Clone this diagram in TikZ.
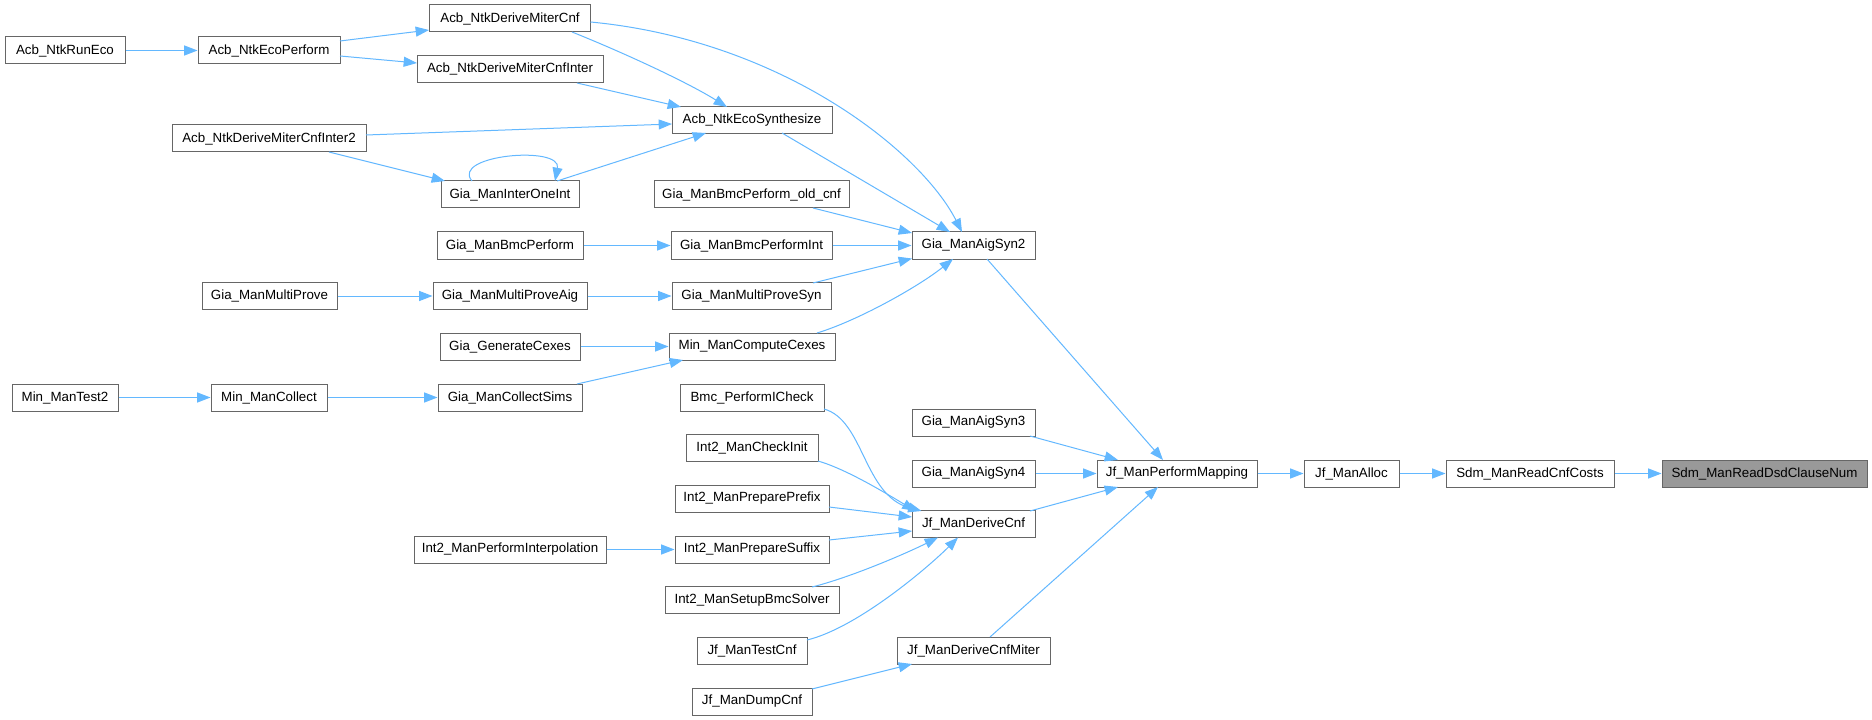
\documentclass[tikz,border=0pt]{standalone}
\usepackage{fontspec}
\setmainfont{Liberation Sans}
\usetikzlibrary{arrows.meta,calc}
\definecolor{edgeblue}{HTML}{63B8FF}
\definecolor{boxgray}{HTML}{666666}
\definecolor{focusgray}{HTML}{999999}
\begin{document}
\begin{tikzpicture}[x=0.75pt,y=-0.75pt,
  fnbox/.style={draw=boxgray, line width=0.75pt, fill=white, inner sep=0pt,
    minimum height=20.25pt, font=\fontsize{10pt}{12pt}\selectfont, text=black},
  bw/.style={minimum width=#1*0.75pt},
  calledge/.style={draw=edgeblue, line width=0.75pt,
    -{Triangle[length=10pt,width=7.5pt]}},
]
\fill[white] (0,0) rectangle (1872,720);
\useasboundingbox (0,0) rectangle (1872,720);

% column 0
\node[fnbox,bw=120] (runeco) at (65,50.5) {Acb\_NtkRunEco};
\node[fnbox,bw=106] (mintest2) at (65,397.5) {Min\_ManTest2};
% column 1
\node[fnbox,bw=142] (ecoperf) at (269,50.5) {Acb\_NtkEcoPerform};
\node[fnbox,bw=194] (dmci2) at (269,138.5) {Acb\_NtkDeriveMiterCnfInter2};
\node[fnbox,bw=135] (multiprove) at (269.5,296) {Gia\_ManMultiProve};
\node[fnbox,bw=116] (mincollect) at (269,397.5) {Min\_ManCollect};
% column 2
\node[fnbox,bw=161] (dmc) at (510,18.5) {Acb\_NtkDeriveMiterCnf};
\node[fnbox,bw=186] (dmci) at (510,69) {Acb\_NtkDeriveMiterCnfInter};
\node[fnbox,bw=138] (interone) at (510,194.5) {Gia\_ManInterOneInt};
\node[fnbox,bw=146] (bmcperf) at (510,245.5) {Gia\_ManBmcPerform};
\node[fnbox,bw=154] (mpaig) at (510,296) {Gia\_ManMultiProveAig};
\node[fnbox,bw=140] (gencex) at (510,346.5) {Gia\_GenerateCexes};
\node[fnbox,bw=144] (collectsims) at (510,397.5) {Gia\_ManCollectSims};
\node[fnbox,bw=192] (perfinterp) at (510,549.5) {Int2\_ManPerformInterpolation};
% column 3
\node[fnbox,bw=160] (ecosyn) at (752,120) {Acb\_NtkEcoSynthesize};
\node[fnbox,bw=195] (oldcnf) at (751.5,194.5) {Gia\_ManBmcPerform\_old\_cnf};
\node[fnbox,bw=161] (bmcint) at (751.5,245.5) {Gia\_ManBmcPerformInt};
\node[fnbox,bw=159] (mpsyn) at (751.5,296) {Gia\_ManMultiProveSyn};
\node[fnbox,bw=166] (compcex) at (752,346.5) {Min\_ManComputeCexes};
\node[fnbox,bw=144] (icheck) at (752,397.5) {Bmc\_PerformICheck};
\node[fnbox,bw=132] (checkinit) at (752,448) {Int2\_ManCheckInit};
\node[fnbox,bw=154] (prefix) at (752,498.5) {Int2\_ManPreparePrefix};
\node[fnbox,bw=154] (suffix) at (752,549.5) {Int2\_ManPrepareSuffix};
\node[fnbox,bw=174] (setupbmc) at (752,600) {Int2\_ManSetupBmcSolver};
\node[fnbox,bw=110] (testcnf) at (752,650.5) {Jf\_ManTestCnf};
\node[fnbox,bw=120] (dumpcnf) at (752,701.5) {Jf\_ManDumpCnf};
% column 4
\node[fnbox,bw=123] (aigsyn2) at (973.5,245.5) {Gia\_ManAigSyn2};
\node[fnbox,bw=123] (aigsyn3) at (973.5,422.5) {Gia\_ManAigSyn3};
\node[fnbox,bw=123] (aigsyn4) at (973.5,473.5) {Gia\_ManAigSyn4};
\node[fnbox,bw=123] (derivecnf) at (973.5,524) {Jf\_ManDeriveCnf};
\node[fnbox,bw=153] (dcnfmiter) at (973.5,650.5) {Jf\_ManDeriveCnfMiter};
% right chain
\node[fnbox,bw=160] (perfmap) at (1177,473.5) {Jf\_ManPerformMapping};
\node[fnbox,bw=95] (alloc) at (1351.5,473.5) {Jf\_ManAlloc};
\node[fnbox,bw=168] (cnfcosts) at (1530,473.5) {Sdm\_ManReadCnfCosts};
\node[fnbox,bw=205,fill=focusgray] (dsd) at (1764.5,473.5) {Sdm\_ManReadDsdClauseNum};

% edges
\draw[calledge] (runeco.east) -- (ecoperf.west);
\draw[calledge] ($(ecoperf)+(71,-9.5)$) -- ($(dmc)+(-81,11.5)$);
\draw[calledge] ($(ecoperf)+(71,5.5)$) -- ($(dmci)+(-93,-6)$);
\draw[calledge] ($(dmc)+(62,13.5)$) .. controls +(50,20) and +(-40,-25) .. ($(ecosyn)+(-25,-13)$);
\draw[calledge] ($(dmc)+(80.5,3.5)$) .. controls +(190,18) and +(-42,-82) .. ($(aigsyn2)+(-11.5,-13.5)$);
\draw[calledge] ($(dmci)+(67,14)$) -- ($(ecosyn)+(-71,-13)$);
\draw[calledge] ($(dmci2)+(97,-3.5)$) -- ($(ecosyn)+(-80,4)$);
\draw[calledge] ($(dmci2)+(60,13.5)$) -- ($(interone)+(-65,-13.5)$);
\draw[calledge] ($(interone)+(-38,-13.5)$) .. controls +(-22,-26) and +(7,-36) .. ($(interone)+(45,-13.5)$);
\draw[calledge] ($(interone)+(47,-13.5)$) -- ($(ecosyn)+(-46,13)$);
\draw[calledge] ($(ecosyn)+(30,13)$) -- ($(aigsyn2)+(-23.5,-13.5)$);
\draw[calledge] (bmcperf.east) -- (bmcint.west);
\draw[calledge] ($(oldcnf)+(61.5,13.5)$) -- ($(aigsyn2)+(-61.5,-12.5)$);
\draw[calledge] (bmcint.east) -- (aigsyn2.west);
\draw[calledge] ($(mpsyn)+(61.5,-13)$) -- ($(aigsyn2)+(-61.5,13)$);
\draw[calledge] ($(compcex)+(65,-13.5)$) .. controls +(40,-12) and +(-35,28) .. ($(aigsyn2)+(-20.5,13.5)$);
\draw[calledge] (multiprove.east) -- (mpaig.west);
\draw[calledge] (mpaig.east) -- (mpsyn.west);
\draw[calledge] (gencex.east) -- (compcex.west);
\draw[calledge] ($(collectsims)+(67,-13.5)$) -- ($(compcex)+(-69,13.5)$);
\draw[calledge] (mintest2.east) -- (mincollect.west);
\draw[calledge] (mincollect.east) -- (collectsims.west);
% into Jf_ManPerformMapping
\draw[calledge] ($(aigsyn2)+(13.5,13.5)$) -- ($(perfmap)+(-14,-13.5)$);
\draw[calledge] ($(aigsyn3)+(56.5,13.5)$) -- ($(perfmap)+(-59,-13.5)$);
\draw[calledge] (aigsyn4.east) -- (perfmap.west);
\draw[calledge] ($(derivecnf)+(56.5,-13)$) -- ($(perfmap)+(-59,13.5)$);
\draw[calledge] ($(dcnfmiter)+(16.5,-13.5)$) -- ($(perfmap)+(-19,13.5)$);
\draw[calledge] (perfmap.east) -- (alloc.west);
\draw[calledge] (alloc.east) -- (cnfcosts.west);
\draw[calledge] (cnfcosts.east) -- (dsd.west);
% into Jf_ManDeriveCnf
\draw[calledge] ($(icheck)+(72,11.5)$) .. controls +(40,11) and +(-58,-16) .. ($(derivecnf)+(-52,-13)$);
\draw[calledge] ($(checkinit)+(66,13)$) .. controls +(28,8) and +(-30,-18) .. ($(derivecnf)+(-58,-13)$);
\draw[calledge] ($(prefix)+(77,8.5)$) -- ($(derivecnf)+(-61.5,-7)$);
\draw[calledge] ($(suffix)+(77,-9.5)$) -- ($(derivecnf)+(-61.5,7)$);
\draw[calledge] (perfinterp.east) -- (suffix.west);
\draw[calledge] ($(setupbmc)+(60,-13)$) .. controls +(40,-10) and +(-30,15) .. ($(derivecnf)+(-35.5,13.5)$);
\draw[calledge] ($(testcnf)+(55,-10.5)$) .. controls +(50,-12) and +(-30,30) .. ($(derivecnf)+(-15.5,13.5)$);
\draw[calledge] ($(dumpcnf)+(60,-12.5)$) -- ($(dcnfmiter)+(-61.5,13.5)$);
\end{tikzpicture}
\end{document}
